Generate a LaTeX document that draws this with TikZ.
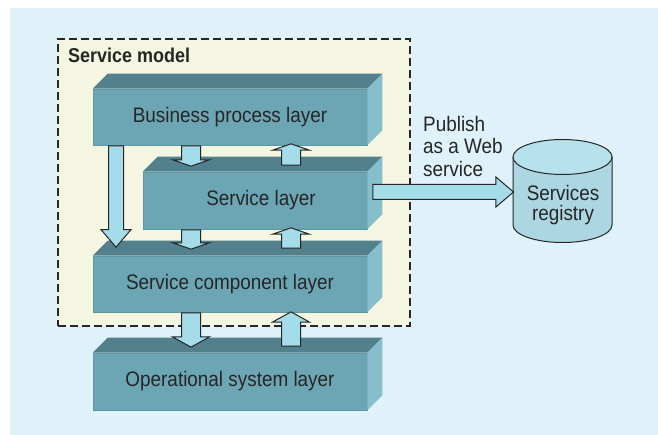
\documentclass[tikz,border=0pt]{standalone}
\usepackage{fontspec}
\setmainfont{Liberation Sans}[FakeStretch=0.9]
\usetikzlibrary{shapes.arrows,calc}

\definecolor{bgblue}{RGB}{223,241,249}
\definecolor{modelcream}{RGB}{245,246,225}
\definecolor{frontc}{RGB}{108,165,179}
\definecolor{edgec}{RGB}{94,150,164}
\definecolor{topc}{RGB}{82,128,141}
\definecolor{sidec}{RGB}{135,190,204}
\definecolor{arrowc}{RGB}{164,220,234}
\definecolor{cyltop}{RGB}{182,226,238}
\definecolor{cylbody}{RGB}{172,214,225}
\definecolor{inkc}{RGB}{38,38,38}

\newcommand*{\layerdepth}{15}
% block arrow as a node from one point to another
\newcommand*{\blockarrow}[4][]{%
	\path let \p1=(#3), \p2=(#4),
		\n1={veclen(\x2-\x1,\y2-\y1)}, \n2={atan2(\y2-\y1,\x2-\x1)} in
		node[#1, minimum height=\n1, rotate=\n2, anchor=tail] (#2) at (\p1) {};
}

\begin{document}
\begin{tikzpicture}
[
	x=1pt, y=-1pt,
	every node/.style={text=inkc, font=\fontsize{21}{22.5}\selectfont},
	layer/.style={rectangle, fill=frontc, draw=edgec, line width=0.7pt, inner sep=0pt, minimum height=56pt},
	topface/.style={fill=topc},
	sideface/.style={fill=sidec},
	modelbox/.style={rectangle, fill=modelcream, draw=inkc, line width=2pt, dash pattern=on 8pt off 4pt, inner sep=0pt},
	smallarrow/.style={single arrow, draw=inkc, fill=arrowc, line width=1pt, inner xsep=0pt, inner ysep=9pt, single arrow head extend=9pt, single arrow tip angle=142},
	lowarrow/.style={smallarrow, single arrow tip angle=122},
	bigarrow/.style={single arrow, draw=inkc, fill=arrowc, line width=1pt, inner xsep=0pt, inner ysep=7pt, single arrow head extend=7.5pt, single arrow tip angle=81},
	cylbody/.style={fill=cylbody},
	cylend/.style={fill=cyltop, draw=inkc, line width=1pt}
]

	% background and bounding box
	\useasboundingbox (0,0) rectangle (658,435);
	\fill[bgblue] (10,8) rectangle (658,435);

	% service model frame
	\node[modelbox, minimum width=352pt, minimum height=287pt] (model) at (234,182.5) {};
	\node[anchor=base west, inner sep=0pt, font=\fontsize{20}{22}\selectfont\bfseries] (modeltitle) at (68,62.7) {Service model};

	% layers (front faces)
	\node[layer, minimum width=274pt] (bpl) at (230,117) {Business process layer};
	\node[layer, minimum width=224pt, minimum height=57pt] (svl) at (255,200.5) {\hspace{12pt}Service layer};
	\node[layer, minimum width=274pt] (scl) at (230,284) {Service component layer};
	\node[layer, minimum width=274pt, minimum height=57pt] (osl) at (230,381.5) {Operational system layer};

	% top and side faces
	\foreach \n in {bpl,svl,scl,osl}{
		\fill[topface] (\n.north west) -- ++(\layerdepth,-\layerdepth)
			-- ([shift={(\layerdepth,-\layerdepth)}]\n.north east) -- (\n.north east) -- cycle;
		\fill[sideface] (\n.north east) -- ++(\layerdepth,-\layerdepth)
			-- ([shift={(\layerdepth,-\layerdepth)}]\n.south east) -- (\n.south east) -- cycle;
	}

	% registry cylinder
	\fill[cylbody] (513,157) -- (513,225) arc[start angle=180, end angle=0, x radius=49.5, y radius=17.5] -- (612,157) -- cycle;
	\draw[inkc, line width=1pt] (513,157) -- (513,225) arc[start angle=180, end angle=0, x radius=49.5, y radius=17.5] -- (612,157);
	\draw[cylend] (562.5,157) ellipse [x radius=49.5, y radius=17.5];
	\coordinate (regin) at (513,192);
	\node[align=center, inner sep=0pt, font=\fontsize{21}{20}\selectfont] (reg) at (563,205) {Services\\registry};

	\node[align=left, anchor=north west, inner sep=0pt] (pubtext) at (423,115.7) {Publish\\as a Web\\service};

	% arrows between layers
	\blockarrow[smallarrow]{bpldown}{[xshift=-39pt]bpl.south}{[xshift=-64pt,yshift=6pt]svl.north}
	\blockarrow[smallarrow]{svlup}{[xshift=36pt,yshift=6pt]svl.north}{[xshift=61pt,yshift=1pt]bpl.south}
	\blockarrow[smallarrow]{svldown}{[xshift=-64pt]svl.south}{[xshift=-39pt,yshift=7pt]scl.north}
	\blockarrow[smallarrow]{sclup}{[xshift=61pt,yshift=7pt]scl.north}{[xshift=36pt,yshift=1pt]svl.south}
	\blockarrow[lowarrow]{scldown}{[xshift=-39pt]scl.south}{[xshift=-39pt,yshift=6pt]osl.north}
	\blockarrow[lowarrow]{oslup}{[xshift=61pt,yshift=6pt]osl.north}{[xshift=61pt]scl.south}

	% bypass and publish arrows
	\blockarrow[bigarrow]{bypass}{[xshift=-114pt]bpl.south}{[xshift=-114pt,yshift=9pt]scl.north}
	\blockarrow[bigarrow]{publish}{[xshift=5pt,yshift=8.5pt]svl.east}{regin}

\end{tikzpicture}
\end{document}
